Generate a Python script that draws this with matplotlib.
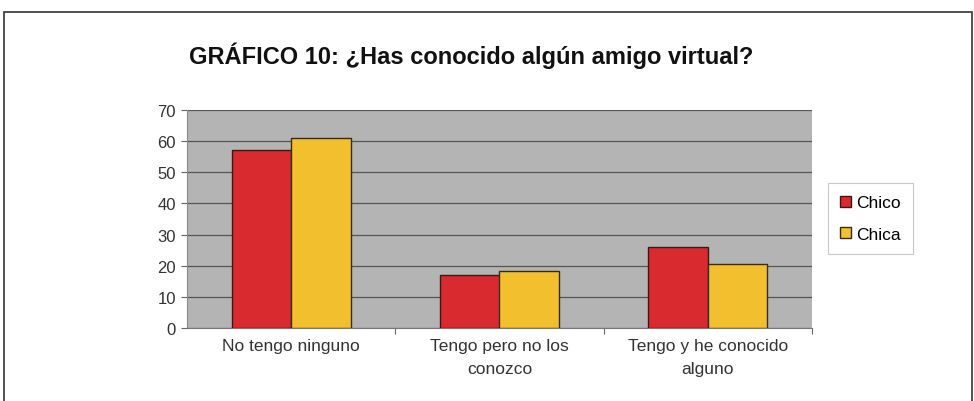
import matplotlib.pyplot as plt
import numpy as np
from matplotlib.patches import Rectangle

categories = ['No tengo ninguno', 'Tengo pero no los\nconozco', 'Tengo y he conocido\nalguno']
chico = [57, 17, 26]
chica = [61, 18.3, 20.5]

plt.rcParams['font.family'] = ['Liberation Sans', 'DejaVu Sans']

fig = plt.figure(figsize=(9.74, 4.02), dpi=100)
ax = fig.add_axes([187 / 974, 1 - 329 / 402, (812 - 187) / 974, (329 - 111) / 402])

x = np.arange(len(categories))
w = 0.2857
ax.bar(x - w / 2, chico, w, color='#d92a30', edgecolor='#3a1a10', linewidth=1.0, label='Chico', zorder=3)
ax.bar(x + w / 2, chica, w, color='#f2c02e', edgecolor='#3a2a10', linewidth=1.0, label='Chica', zorder=3)

ax.set_facecolor('#b4b4b4')
ax.set_xlim(-0.5, 2.5)
ax.set_ylim(0, 70)
ax.set_yticks(range(0, 71, 10))
ax.yaxis.grid(True, color='#555555', linewidth=0.9, zorder=1)
ax.set_xticks([0.5, 1.5, 2.5])
ax.set_xticklabels([])
ax.set_xticks(x, minor=True)
ax.set_xticklabels(categories, minor=True, fontsize=12.5, color='#333333', linespacing=1.7)
ax.tick_params(axis='x', which='minor', length=0, pad=7)
ax.tick_params(axis='x', which='major', length=4, color='#666666')
ax.tick_params(axis='y', length=4, color='#666666', labelsize=12, labelcolor='#333333', pad=4)
for s in ['top', 'right']:
    ax.spines[s].set_visible(False)
ax.spines['left'].set_color('#888888')
ax.spines['bottom'].set_color('#777777')

leg = ax.legend(loc='upper left', bbox_to_anchor=(828 / 974, 1 - 184 / 402), bbox_transform=fig.transFigure,
                frameon=True, fancybox=False, fontsize=12.5, handlelength=0.6, handleheight=0.6,
                handletextpad=0.3, borderpad=0.7, labelspacing=0.95, borderaxespad=0, edgecolor='#bbbbbb')
leg.get_frame().set_linewidth(0.8)

fig.text(0.484, 1 - 56 / 402, 'GRÁFICO 10: ¿Has conocido algún amigo virtual?', ha='center', va='center',
         fontsize=17, fontweight='bold', color='#111111')

# outer frame
fig.patches.append(Rectangle((4 / 974, -0.05), 968 / 974, 1.05 - 13 / 402, transform=fig.transFigure,
                             fill=False, edgecolor='#333333', linewidth=1.2))

plt.savefig('out.png', dpi=100)
